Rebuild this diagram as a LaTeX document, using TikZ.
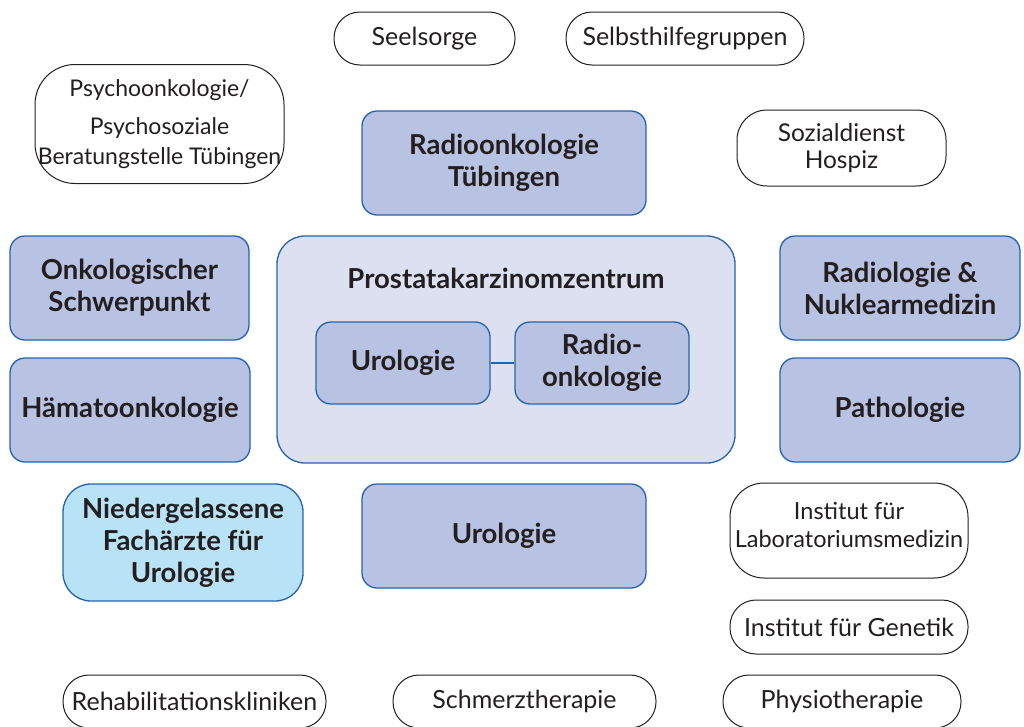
\documentclass[tikz,border=0pt]{standalone}
\usepackage{fontspec}
\setmainfont{Lato}
\usepackage{tikz}
\usetikzlibrary{positioning}

\definecolor{kliniklila}{HTML}{B8C2E2}
\definecolor{zentrumlila}{HTML}{DCE0F0}
\definecolor{praxisblau}{HTML}{B8E3F7}
\definecolor{randblau}{HTML}{2563AE}
\definecolor{schrift}{HTML}{231F20}

\begin{document}
\begin{tikzpicture}[x=1pt,y=-1pt]

\tikzset{klinik/.style = {shape=rectangle, rounded corners=15pt, draw=randblau, line width=1.3pt,
  fill=kliniklila, text=schrift, align=center, inner sep=0pt,
  font=\bfseries\fontsize{27.5}{32}\selectfont}}
\tikzset{praxis/.style = {klinik, fill=praxisblau}}
\tikzset{partner/.style = {shape=rectangle, rounded corners=26pt, draw=schrift, line width=1pt,
  fill=white, text=schrift, align=center, inner sep=0pt,
  font=\fontsize{25}{27}\selectfont}}
\tikzset{klein/.style = {font=\fontsize{23.5}{28}\selectfont}}
\tikzset{verbund/.style = {draw=randblau, line width=1.3pt}}

\useasboundingbox (0,0) rectangle (1024,726);

% top row
\node[partner, minimum width=181pt, minimum height=53pt] (seel) at (424.5,38.5) {Seelsorge};
\node[partner, minimum width=238pt, minimum height=53pt] (selbst) at (685,38.5) {Selbsthilfegruppen};
\node[partner, klein, font=\fontsize{23}{30}\selectfont, rounded corners=40pt, minimum width=249pt, minimum height=119pt] (psycho) at (159.5,124)
  {Psychoonkologie/\\[8pt] Psychosoziale\\ Beratungstelle Tübingen};
\node[klinik, minimum width=284pt, minimum height=104pt] (radtue) at (504,163) {Radioonkologie\\ Tübingen};
\node[partner, klein, font=\fontsize{24.5}{27}\selectfont, rounded corners=30pt, minimum width=209pt, minimum height=76pt] (sozial) at (841.5,148) {Sozialdienst\\ Hospiz};

% centre
\node[klinik, fill=zentrumlila, rounded corners=28pt, minimum width=458pt, minimum height=227pt] (zentrum) at (506,349.5) {};
\node[klinik, draw=none, fill=none] (titel) at (506,278) {Prostatakarzinomzentrum};
\node[klinik, minimum width=174pt, minimum height=82pt] (uroin) at (403,363) {Urologie};
\node[klinik, minimum width=174pt, minimum height=82pt] (radin) at (602,363) {Radio-\\ onkologie};

% left and right
\node[klinik, minimum width=239pt, minimum height=104pt] (onko) at (129.5,288) {Onkologischer\\ Schwerpunkt};
\node[klinik, minimum width=240pt, minimum height=104pt] (haemato) at (130,410) {Hämatoonkologie};
\node[klinik, minimum width=240pt, minimum height=104pt] (radiol) at (900,288) {Radiologie \&\\ Nuklearmedizin};
\node[klinik, minimum width=240pt, minimum height=104pt] (patho) at (900,410) {Pathologie};

% lower part
\node[praxis, rounded corners=28pt, minimum width=240pt, minimum height=117pt] (nieder) at (183,542.5)
  {Niedergelassene\\ Fachärzte für\\ Urologie};
\node[klinik, minimum width=284pt, minimum height=104pt] (uro) at (504,536) {Urologie};
\node[partner, klein, text depth=12pt, rounded corners=34pt, minimum width=238pt, minimum height=95pt] (labor) at (849,530.5)
  {Institut für\\ Laboratoriumsmedizin};
\node[partner, minimum width=238pt, minimum height=54pt] (genetik) at (849,627) {Institut für Genetik};

% bottom row
\node[partner, minimum width=263pt, minimum height=53pt] (reha) at (194.5,701.5) {Rehabilitationskliniken};
\node[partner, minimum width=263pt, minimum height=53pt] (schmerz) at (524.5,701.5) {Schmerztherapie};
\node[partner, minimum width=238pt, minimum height=53pt] (physio) at (842,701.5) {Physiotherapie};

% link
\draw[verbund] (uroin) -- (radin);

\end{tikzpicture}
\end{document}
